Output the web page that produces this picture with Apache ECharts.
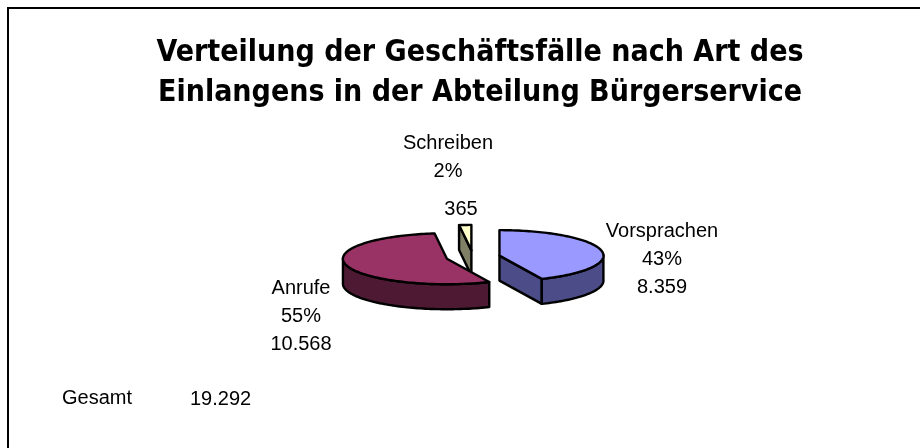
<!DOCTYPE html>
<html>
<head>
<meta charset="utf-8">
<script src="https://cdn.jsdelivr.net/npm/echarts@6/dist/echarts.min.js"></script>
<style>
  html, body { margin: 0; padding: 0; background: #fff; }
  #chart { width: 920px; height: 448px; }
</style>
</head>
<body>
<div id="chart"></div>
<script>
// Daten
const categories = ["Vorsprachen", "Anrufe", "Schreiben"];
const values = [8359, 10568, 365];
const totalLabel = "Gesamt";

// Farben (Deckfläche / Seitenwand)
const topColors = ["#9999FF", "#993366", "#FFFFCC"];
const sideColors = ["#4C4C88", "#4D1933", "#808066"];

const total = values.reduce((a, b) => a + b, 0);
const fmt = n => String(n).replace(/\B(?=(\d{3})+(?!\d))/g, ".");
const pct = n => Math.round(n / total * 100) + "%";

let acc = 0;
const slices = values.map((v, i) => {
  const s = acc;
  acc += v;
  return [1, s, acc, i];
});

const SQUASH = 0.245, DEPTH = 25, EXPLODE = 0.26;
const LINE = { stroke: "#000", lineWidth: 2.4, lineJoin: "round" };

// Ellipsen-Geometrie aus der Polar-Achse ableiten
function geom(api) {
  const a0 = api.value(1), a1 = api.value(2);
  const c = api.coord([0, 0]);
  const pt = (r, a) => {
    const p = api.coord([r, a]);
    return [p[0], c[1] + (p[1] - c[1]) * SQUASH];
  };
  const m = pt(EXPLODE, (a0 + a1) / 2);
  const dx = m[0] - c[0], dy = m[1] - c[1];
  const o = [c[0] + dx, c[1] + dy];
  const n = Math.max(6, Math.ceil((a1 - a0) / total * 240));
  const arc = [];
  for (let k = 0; k <= n; k++) {
    const p = pt(1, a0 + (a1 - a0) * k / n);
    arc.push([p[0] + dx, p[1] + dy]);
  }
  return { o, arc };
}

const down = p => [p[0], p[1] + DEPTH];
const poly = (points, fill) => ({
  type: "polygon",
  shape: { points },
  style: Object.assign({ fill }, LINE)
});

function renderWalls(params, api) {
  const i = api.value(3);
  const { o, arc } = geom(api);
  const fill = sideColors[i];
  const children = [];
  const first = arc[0], last = arc[arc.length - 1];
  if (first[0] < o[0] - 0.5) children.push(poly([o, first, down(first), down(o)], fill));
  if (last[0] > o[0] + 0.5) children.push(poly([o, last, down(last), down(o)], fill));
  let run = [];
  const flush = () => {
    if (run.length > 1) children.push(poly(run.concat(run.slice().reverse().map(down)), fill));
    run = [];
  };
  arc.forEach(p => {
    if (p[1] >= o[1] - 1) run.push(p);
    else flush();
  });
  flush();
  return { type: "group", children };
}

function renderTops(params, api) {
  const i = api.value(3);
  const { o, arc } = geom(api);
  return poly([o].concat(arc), topColors[i]);
}

// Beschriftungen
const labelFont = "Liberation Sans, Arial, sans-serif";
const labelPos = [
  { x: 662, y: 217 },
  { x: 301, y: 274 },
  { x: 448, y: 129 }
];
const labelText = i => i === 2
  ? categories[i] + "\n" + pct(values[i])
  : categories[i] + "\n" + pct(values[i]) + "\n" + fmt(values[i]);

const labels = categories.map((c, i) => ({
  type: "text",
  silent: true,
  style: {
    text: labelText(i),
    x: labelPos[i].x,
    y: labelPos[i].y,
    textAlign: "center",
    textVerticalAlign: "top",
    fontSize: 20,
    fontFamily: labelFont,
    lineHeight: 28,
    fill: "#000"
  }
}));

const chart = echarts.init(document.getElementById("chart"));
chart.setOption({
  animation: false,
  backgroundColor: "#fff",
  title: {
    text: "Verteilung der Geschäftsfälle nach Art des\nEinlangens in der Abteilung Bürgerservice",
    left: 475,
    top: 28,
    textAlign: "center",
    textStyle: {
      fontSize: 30,
      fontWeight: "bold",
      fontFamily: "'Liberation Sans Narrow', 'DejaVu Sans Condensed', sans-serif",
      lineHeight: 40,
      color: "#000"
    }
  },
  polar: { center: [473, 257], radius: 104 },
  angleAxis: { type: "value", min: 0, max: total, startAngle: 90, clockwise: true, show: false },
  radiusAxis: { type: "value", min: 0, max: 1, show: false },
  series: [
    {
      type: "custom",
      coordinateSystem: "polar",
      encode: { radius: 0, angle: 1 },
      silent: true,
      z: 1,
      renderItem: renderWalls,
      data: slices
    },
    {
      type: "custom",
      coordinateSystem: "polar",
      encode: { radius: 0, angle: 1 },
      silent: true,
      z: 2,
      renderItem: renderTops,
      data: slices
    }
  ],
  graphic: [
    {
      type: "rect",
      silent: true,
      shape: { x: 8, y: 8, width: 1000, height: 1000 },
      style: { fill: "none", stroke: "#000", lineWidth: 2 }
    },
    ...labels,
    {
      type: "text",
      silent: true,
      style: {
        text: fmt(values[2]), x: 461, y: 209,
        textAlign: "center", textVerticalAlign: "middle",
        fontSize: 20, fontFamily: labelFont, fill: "#000"
      }
    },
    {
      type: "text",
      silent: true,
      style: {
        text: totalLabel, x: 62, y: 398,
        textAlign: "left", textVerticalAlign: "middle",
        fontSize: 20, fontFamily: labelFont, fill: "#000"
      }
    },
    {
      type: "text",
      silent: true,
      style: {
        text: fmt(total), x: 190, y: 399,
        textAlign: "left", textVerticalAlign: "middle",
        fontSize: 20, fontFamily: labelFont, fill: "#000"
      }
    }
  ]
});
</script>
</body>
</html>
